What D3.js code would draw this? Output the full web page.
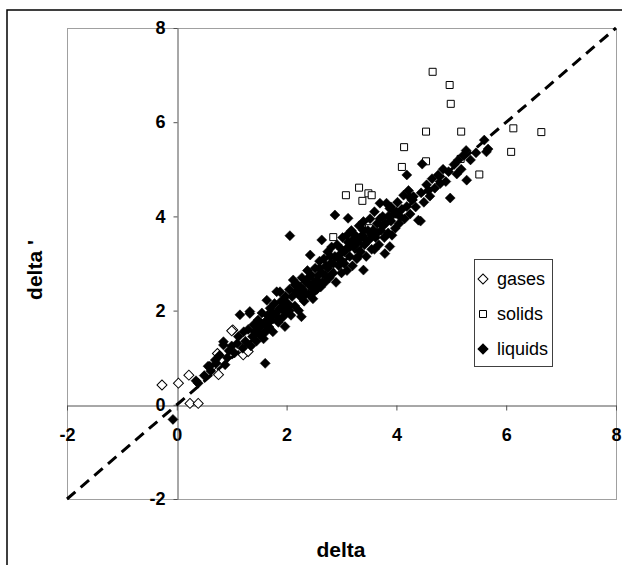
<!DOCTYPE html>
<html lang="en">
  <head>
    <meta charset="utf-8" />
    <title>delta vs delta'</title>
    <script src="https://d3js.org/d3.v7.js"></script>
    <style>
      body { margin: 0; background: #fff; }
      text { font-family: Arial, "Liberation Sans", sans-serif; }
    </style>
  </head>
  <body>
    <div id="graph"></div>
    <script>

    // series values, [delta, delta']
    var gases = [
      [-0.27, 0.42], [0.03, 0.46], [0.22, 0.63], [0.24, 0.03], [0.39, 0.03],
      [0.76, 0.64], [0.62, 0.78], [0.74, 1.09], [1.02, 1.59], [1.21, 1.06],
      [1.30, 1.13], [1.0, 1.57]
    ];

    var solids = [
      [4.66, 7.07], [4.97, 6.79], [4.99, 6.39], [4.54, 5.80], [5.18, 5.80],
      [6.13, 5.87], [6.64, 5.79], [4.14, 5.47], [6.09, 5.37], [4.54, 5.17],
      [4.10, 5.05], [5.17, 5.22], [5.51, 4.89], [3.08, 4.45], [3.32, 4.61],
      [3.49, 4.49], [3.38, 4.33], [3.55, 4.45], [2.85, 3.56], [3.5, 3.75]
    ];

    var liquids = [
      [-0.07, -0.31], [0.35, 0.51], [0.39, 0.46], [0.57, 0.82], [0.62, 0.72],
      [0.60, 0.82], [0.88, 0.85], [0.85, 1.27], [0.85, 1.34], [0.7, 0.95],
      [0.78, 1.05], [0.92, 1.0], [0.95, 1.15], [1.0, 1.25], [0.72, 0.88], [0.5, 0.62],
      [1.05, 1.1], [1.1, 1.3], [1.15, 1.91], [1.12, 1.45], [1.2, 1.2], [1.22, 1.55],
      [1.25, 1.35], [1.3, 1.6], [1.33, 1.98], [1.33, 1.94], [1.35, 1.25], [1.38, 1.45],
      [1.4, 1.7], [1.42, 1.55], [1.45, 1.35], [1.48, 1.8], [1.5, 1.5], [1.52, 1.65],
      [1.55, 1.95], [1.58, 1.4], [1.6, 1.75], [1.61, 0.88], [1.62, 1.55], [1.64, 2.22],
      [1.65, 1.9], [1.68, 1.65], [1.7, 2.05], [1.72, 1.8], [1.75, 1.55], [1.78, 2.15],
      [1.8, 1.9], [1.82, 2.4], [1.85, 1.75], [1.88, 2.4], [1.88, 2.05], [1.9, 2.2],
      [1.92, 1.85], [1.95, 2.1], [1.97, 1.66], [1.98, 2.3], [2.0, 1.95],
      [2.02, 2.15], [2.05, 2.45], [2.06, 3.59], [2.08, 1.9], [2.1, 2.3], [2.12, 2.65],
      [2.15, 2.1], [2.18, 2.4], [2.2, 2.55], [2.22, 2.0], [2.25, 2.3], [2.27, 1.87],
      [2.28, 2.7], [2.3, 2.45], [2.32, 2.2], [2.35, 2.6], [2.38, 2.85], [2.4, 2.35],
      [2.42, 2.55], [2.43, 3.18], [2.45, 2.75], [2.48, 2.25], [2.5, 2.6], [2.52, 2.9],
      [2.55, 2.45], [2.58, 2.75], [2.6, 3.05], [2.62, 2.5], [2.64, 3.5], [2.65, 2.8],
      [2.68, 3.1], [2.7, 2.6], [2.72, 2.95], [2.75, 3.25], [2.78, 2.7], [2.8, 3.0],
      [2.82, 3.35], [2.85, 2.8], [2.88, 4.03], [2.88, 3.15], [2.9, 2.6], [2.92, 3.4],
      [2.95, 2.95], [2.98, 3.2], [3.0, 3.07], [3.0, 2.8],
      [3.02, 3.55], [3.05, 3.0], [3.08, 3.3], [3.1, 2.85], [3.12, 3.96], [3.12, 3.45],
      [3.15, 3.15], [3.18, 3.7], [3.2, 2.95], [3.22, 3.35], [3.25, 3.6], [3.28, 3.1],
      [3.3, 3.45], [3.32, 3.8], [3.35, 3.25], [3.38, 3.6], [3.4, 2.86], [3.4, 3.89],
      [3.42, 3.4], [3.45, 3.15], [3.48, 3.7], [3.5, 3.5], [3.52, 3.95], [3.55, 3.3],
      [3.58, 3.71], [3.6, 4.1], [3.62, 3.55], [3.65, 3.85], [3.68, 3.4], [3.7, 4.28],
      [3.72, 3.7], [3.75, 4.0], [3.78, 3.55], [3.79, 3.21], [3.8, 3.85], [3.82, 4.28],
      [3.85, 3.65], [3.88, 3.36], [3.88, 4.17], [3.9, 3.9], [3.92, 3.6], [3.95, 4.05],
      [3.98, 3.75],
      [4.02, 4.3], [4.05, 3.85], [4.07, 3.99], [4.1, 4.15], [4.13, 4.45], [4.15, 3.95],
      [4.19, 4.21], [4.19, 4.88], [4.22, 4.55], [4.25, 4.05], [4.28, 4.35], [4.31, 4.42],
      [4.35, 4.2], [4.4, 3.92], [4.44, 3.90], [4.45, 4.5], [4.47, 5.11], [4.5, 4.3],
      [4.55, 4.67], [4.58, 4.55], [4.61, 4.43], [4.65, 4.8], [4.7, 4.6], [4.76, 4.88],
      [4.8, 4.7], [4.85, 5.0], [4.9, 4.74], [4.95, 4.95], [4.98, 4.39],
      [5.05, 5.1], [5.1, 4.9], [5.13, 5.2], [5.18, 5.0], [5.22, 5.3], [5.27, 5.4],
      [5.28, 4.77], [5.35, 5.2], [5.45, 5.35], [5.6, 5.62], [5.64, 5.37], [5.67, 5.43],
      [2.05, 2.0], [2.15, 2.55], [2.25, 2.5], [2.35, 2.35], [2.45, 2.5], [2.55, 2.65],
      [2.65, 2.6], [2.75, 2.9], [2.85, 3.0], [2.95, 3.1], [3.05, 3.25], [3.15, 3.35],
      [3.25, 3.4], [3.35, 3.55], [3.45, 3.5], [3.55, 3.6], [3.65, 3.65], [3.75, 3.8],
      [1.45, 1.55], [1.55, 1.7], [1.65, 1.75], [1.75, 1.95], [1.85, 2.0], [1.95, 2.0],
      [3.3, 3.15], [3.6, 3.3], [2.7, 2.75], [2.5, 2.4], [3.0, 3.3], [3.9, 4.2],
      [2.6, 2.9], [2.8, 3.15], [3.1, 3.6], [3.2, 3.5], [3.4, 3.7], [3.7, 3.95],
      [2.4, 2.7], [2.2, 2.4], [1.9, 2.05], [3.85, 4.0], [4.0, 4.1], [4.25, 4.4]
    ];

    // the y = x reference line
    var lineX = [-2, 8];
    var lineY = [-2, 8];

    var xTicks = [-2, 0, 2, 4, 6, 8];
    var yTicks = [-2, 0, 2, 4, 6, 8];

    var legendNames = ["gases", "solids", "liquids"];

    var w = 622, h = 565;
    var plot = {left: 67, top: 28, right: 616, bottom: 499};

    var x = d3.scaleLinear().domain([-2, 8]).range([plot.left, plot.right]);
    var y = d3.scaleLinear().domain([-2, 8]).range([plot.bottom, plot.top]);

    var svg = d3.select("#graph")
      .append("svg")
        .attr("width", w)
        .attr("height", h);

    // outer chart border (runs off the right and bottom edge)
    svg.append("rect")
      .attr("x", 7).attr("y", 10)
      .attr("width", 640).attr("height", 600)
      .attr("fill", "none")
      .attr("stroke", "#000")
      .attr("stroke-width", 1.5);

    // plot area border
    svg.append("rect")
      .attr("x", plot.left + 0.5).attr("y", plot.top + 0.5)
      .attr("width", plot.right - plot.left).attr("height", plot.bottom - plot.top)
      .attr("fill", "#fff")
      .attr("stroke", "#a0a0a0");

    // axes crossing at 0
    var xAxis = svg.append("g")
      .attr("transform", `translate(0,${Math.round(y(0)) + 0.5})`)
      .call(d3.axisBottom(x).tickValues(xTicks).tickSize(5).tickSizeOuter(0)
        .tickPadding(18).tickFormat(d => String(d)));

    var yAxis = svg.append("g")
      .attr("transform", `translate(${Math.round(x(0)) + 0.5},0)`)
      .call(d3.axisLeft(y).tickValues(yTicks).tickSize(4).tickSizeOuter(0)
        .tickPadding(8).tickFormat(d => String(d)));

    [xAxis, yAxis].forEach(function(a) {
      a.selectAll("path, line").attr("stroke", "#505050");
      a.selectAll("text")
        .attr("fill", "#000")
        .style("font-size", "18px")
        .style("font-weight", "bold");
    });

    // dashed y = x line, under the points
    var line = d3.line()
      .x(d => x(d[0]))
      .y(d => y(d[1]));

    svg.append("path")
      .datum(lineX.map((v, i) => [v, lineY[i]]))
      .attr("d", line)
      .attr("fill", "none")
      .attr("stroke", "#000")
      .attr("stroke-width", 3)
      .attr("stroke-dasharray", "11,7");

    var diamond = d3.symbol().type(d3.symbolSquare).size(50);
    var square = d3.symbol().type(d3.symbolSquare).size(49);

    svg.append("g").selectAll("path")
      .data(gases)
      .join("path")
        .attr("d", diamond)
        .attr("transform", d => `translate(${x(d[0])},${y(d[1])}) rotate(45)`)
        .attr("fill", "#fff")
        .attr("stroke", "#000");

    svg.append("g").selectAll("path")
      .data(solids)
      .join("path")
        .attr("d", square)
        .attr("transform", d => `translate(${x(d[0])},${y(d[1])})`)
        .attr("fill", "#fff")
        .attr("stroke", "#000");

    svg.append("g").selectAll("path")
      .data(liquids)
      .join("path")
        .attr("d", diamond)
        .attr("transform", d => `translate(${x(d[0])},${y(d[1])}) rotate(45)`)
        .attr("fill", "#000")
        .attr("stroke", "#000")
        .attr("stroke-width", 0.5);

    // axis titles
    svg.append("text")
      .attr("x", 341)
      .attr("y", 557)
      .attr("text-anchor", "middle")
      .style("font-size", "21px")
      .style("font-weight", "bold")
      .text("delta");

    svg.append("text")
      .attr("transform", "translate(42,270) rotate(-90)")
      .attr("text-anchor", "middle")
      .style("font-size", "21px")
      .style("font-weight", "bold")
      .text("delta '");

    // legend
    var legend = svg.append("g");
    legend.append("rect")
      .attr("x", 474.5).attr("y", 259.5)
      .attr("width", 78).attr("height", 107)
      .attr("fill", "#fff")
      .attr("stroke", "#404040");

    var items = legend.selectAll("g.item")
      .data(legendNames)
      .join("g")
        .attr("class", "item")
        .attr("transform", (d, i) => `translate(483,${279 + i * 35})`);

    items.append("path")
      .attr("d", (d, i) => i === 1 ? square() : diamond())
      .attr("transform", (d, i) => i === 1 ? null : "rotate(45)")
      .attr("fill", (d, i) => i === 2 ? "#000" : "#fff")
      .attr("stroke", "#000");

    items.append("text")
      .attr("x", 14)
      .attr("dy", "0.35em")
      .style("font-size", "18px")
      .text(d => d);

    </script>
  </body>
</html>
